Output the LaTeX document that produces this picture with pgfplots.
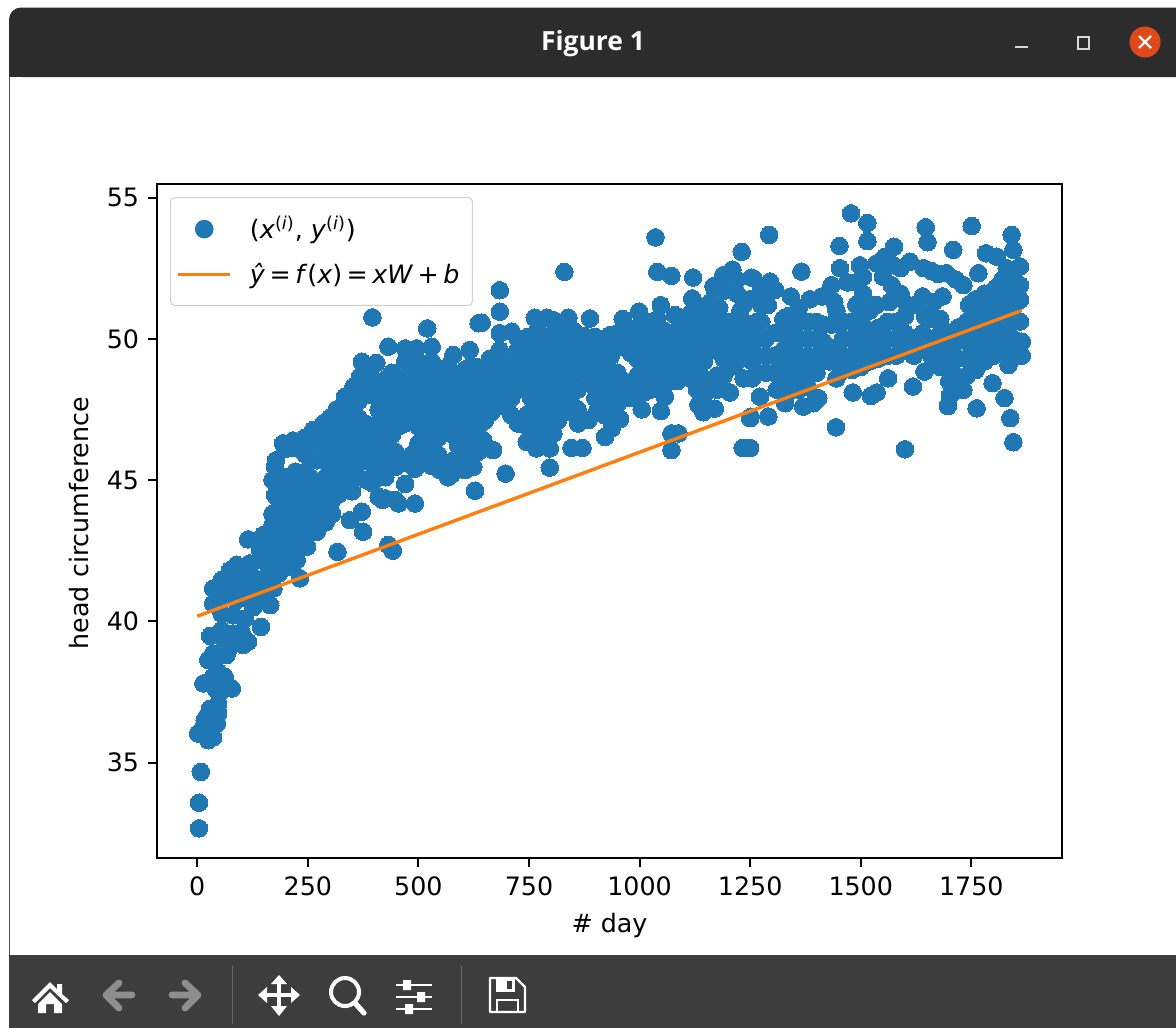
\documentclass[border=0pt]{standalone}
\usepackage{fontspec}
\usepackage{pgfplots}
\pgfplotsset{compat=1.18}
\setmainfont{DejaVu Sans}
\newfontfamily\titlefont{Open Sans}
\definecolor{mplblue}{HTML}{1F77B4}
\definecolor{mplorange}{HTML}{FF7F0E}
\definecolor{barTop}{HTML}{2C2C2C}
\definecolor{barBottom}{HTML}{3D3D3D}
\definecolor{iconGrey}{HTML}{8E8E8E}
\definecolor{closeRed}{HTML}{E0491A}
\newcommand{\mplfont}{\fontsize{12.67}{15}\selectfont}

\begin{document}
\begin{tikzpicture}
\useasboundingbox (0pt,0pt) rectangle (588pt,-514pt);
\fill[white] (0pt,0pt) rectangle (588pt,-514pt);
\begin{scope}[x=0.5pt,y=-0.5pt]
% window frame
\draw[barTop!80,line width=0.7pt] (9.5,70) -- (9.5,960);
\fill[barTop,rounded corners=6pt] (9,7.5) -- (1190,7.5) -- (1190,77) -- (9,77) -- cycle;
\fill[barTop] (9,40) rectangle (1176,77);
\fill[barBottom] (9,955) rectangle (1176,1028);
\node[text=white,font=\titlefont\bfseries\fontsize{13.2}{15}\selectfont] at (593,44) {Figure 1};
\draw[white!85!black,line width=0.9pt] (1015,47) -- (1028,47);
\draw[white!85!black,line width=0.8pt] (1078,37) rectangle (1089,49);
\fill[closeRed] (1145,42) circle (15.5);
\draw[white,line width=1.1pt] (1139,36) -- (1151,48) (1151,36) -- (1139,48);
% toolbar
\draw[white!22!barBottom,line width=0.4pt] (232,966) -- (232,1024) (461,966) -- (461,1024);
\fill[white] (32,1000) -- (50,982) -- (57,989) -- (57,984) -- (62,984) -- (62,994) -- (69,1000) -- (66,1003) -- (50,988) -- (35,1003) -- cycle;
\fill[white] (38,1004) -- (50,992) -- (62,1004) -- (62,1013) -- (54,1013) -- (54,1004) -- (46,1004) -- (46,1013) -- (38,1013) -- cycle;
\draw[iconGrey,line width=3.4pt,line cap=round,line join=round] (132,995) -- (108,995) (119,983) -- (106,995) -- (119,1008);
\draw[iconGrey,line width=3.4pt,line cap=round,line join=round] (172,995) -- (196,995) (185,983) -- (198,995) -- (185,1008);
\draw[white,line width=1.7pt] (263,995) -- (295,995) (279,979) -- (279,1011);
\fill[white] (279,975) -- (287,984) -- (271,984) -- cycle (279,1016) -- (287,1006) -- (271,1006) -- cycle (258,995) -- (267,987) -- (267,1003) -- cycle (300,995) -- (291,987) -- (291,1003) -- cycle;
\draw[white,line width=2pt] (345,992) circle (14);
\draw[white,line width=2.6pt,line cap=round] (355,1003) -- (364,1013);
\draw[white,line width=1pt] (396,985) -- (432,985) (396,997) -- (432,997) (396,1009) -- (432,1009);
\fill[white] (403,980) rectangle (411,990) (417,992) rectangle (425,1002) (405,1004) rectangle (413,1014);
\draw[white,line width=1.2pt,line join=round] (490,978) -- (516,978) -- (525,987) -- (525,1012) -- (490,1012) -- cycle;
\fill[white] (496,978) rectangle (515,992);
\fill[barBottom] (507,981) rectangle (512,989);
\draw[white,line width=1pt] (497,1012) -- (497,1000) -- (518,1000) -- (518,1012);
\end{scope}

\begin{axis}[
    at={(78.5pt,-429pt)},
    anchor=south west,
    scale only axis,
    width=452.5pt,
    height=337pt,
    xmin=-91, xmax=1955,
    ymin=31.62, ymax=55.48,
    xtick={0,250,500,750,1000,1250,1500,1750},
    ytick={35,40,45,50,55},
    tick align=outside,
    tick pos=left,
    major tick length=4.45pt,
    axis line style={line width=1pt},
    tick style={line width=1pt,black},
    clip marker paths=true,
    /pgf/number format/assume math mode=true,
    /pgf/number format/1000 sep={},
    ticklabel style={font=\mplfont},
    xticklabel style={yshift=-1.4pt},
    yticklabel style={xshift=-1pt},
    xlabel={\# day},
    ylabel={head circumference},
    label style={font=\mplfont},
    xlabel style={at={(axis description cs:0.5,0)},anchor=north,yshift=-24pt},
    ylabel style={at={(axis description cs:0,0.497)},anchor=south,yshift=30.5pt},
    legend cell align=left,
    legend style={
        at={(0.0144,0.9807)},anchor=north west,
        font=\mplfont,
        draw=black!18,line width=0.5pt,rounded corners=2pt,
        inner xsep=3pt,inner ysep=7.5pt,
        row sep=6.7pt,
        /tikz/every even column/.append style={column sep=11pt},
    },
]
\addplot[only marks,mark=*,mark size=4.4pt,mplblue,mark options={fill=mplblue,draw=mplblue,line width=0pt},
    legend image code/.code={\fill[mplblue] (13pt,0pt) circle (4.4pt);}]
coordinates {
% low left points
(4,32.67) (4,33.58) (8,34.67) (2,36.03) (25,35.79) (36,35.89) (14,36.27) (21,36.62) (44,36.38)
(47,37.09) (29,36.9) (40,36.74) (17,36.5) (47,36.74) (25,36.27) (33,36.5) (14,37.8) (36,38.04)
(78,37.62) (55,37.74) (62,38.04) (52,37.5) (25,38.63) (66,38.8) (44,38.74) (36,38.86) (29,39.48)
(55,39.69) (74,39.1) (104,39.16) (115,39.28) (100,39.63) (81,39.57) (62,39.33) (144,39.8) (165,40.57)
(48,38.2) (42,37.6) (90,39.3)
(36,41.16) (55,41.46) (74,41.81) (89,42) (119,42.05) (142,42.17) (36,40.63) (55,40.28) (81,40.22)
(108,40.1) (127,40.5) (153,40.87) (172,41.16) (66,40.87) (89,40.75) (112,40.87) (81,41.2) (104,41.34)
(127,41.1) (142,41.46) (119,41.7) (157,41.6) (96,41.7) (59,41.1) (115,42.9) (149,43.05) (142,42.52) (157,42.1)
(232,41.52) (270,43.17) (317,42.46) (375,43.17) (345,43.58) (372,43.88) (432,42.7) (442,42.5)
(492,44.17) (455,44.17) (419,44.3)
(170,41.3) (170,41.9) (170,42.4) (170,42.9) (170,43.4) (170,43.8) (176,44.47) (170,45) (176,45.47)
(185,41.7) (185,42.1) (185,42.7) (185,43.2) (185,43.7) (185,44.3) (185,44.8) (178,45.7) (194,46.3)
(200,41.9) (200,42.4) (200,42.9) (200,43.5) (200,44) (200,44.6) (200,45.1) (217,46.4) (198,46.1)
(215,42.1) (215,42.6) (215,43.2) (215,43.7) (215,44.3) (215,44.8) (222,45.3) (215,46.15)
(225,42.17) (232,42.8) (230,43.4) (230,43.9) (230,44.5) (233,45) (233,46.1) (243,46.5)
(248,42.64) (245,43.1) (245,43.7) (245,44.2) (245,44.8) (245,45.3) (245,45.9) (262,46.77)
(260,43.4) (260,44) (260,44.5) (255,45.1) (270,45.7) (260,46.3) (275,46.8)
(275,43.7) (275,44.3) (275,44.8) (285,47) (285,46.4)
(290,43.5) (290,44) (290,44.6) (290,45.1) (290,45.7) (292,46.2) (300,47.2)
(305,43.8) (305,44.3) (305,44.9) (305,45.4) (305,46) (305,46.6) (315,47.5)
(320,44.5) (320,45.1) (320,45.7) (320,46.2) (320,46.8) (325,47.3) (334,47.95)
(335,44.8) (335,45.3) (335,45.9) (335,46.4) (335,47) (335,47.5) (345,47.36) (353,48.3)
(350,44.6) (350,45.1) (350,45.7) (350,46.2) (350,46.8) (350,47.9) (368,48.66) (372,49.19)
(365,45.1) (365,45.6) (365,46.1) (365,46.7) (365,47.2) (365,47.8) (365,48.3)
(383,45) (380,45.8) (380,46.4) (380,47) (383,48.2) (380,48.7) (405,49.15) (396,50.76)
(395,44.9) (395,45.6) (395,46.2) (395,46.8) (395,48) (395,48.6)
(410,44.4) (410,45.2) (410,45.8) (410,46.4) (410,47) (410,47.5) (410,48.2) (424,48.54)
(425,44.35) (425,45.1) (430,45.7) (425,46.2) (425,46.8) (425,47.4) (425,47.9) (432,49.72)
(440,45.5) (448,45.47) (440,46.6) (440,47.1) (440,47.7) (440,48.3) (440,48.8)
(448,44.3) (448,46) (455,46.9) (455,47.5) (455,48) (455,48.5) (470,49.66) (477,48.78)
(470,44.86) (492,45.4) (470,45.6) (470,47) (470,47.6) (470,48.1) (470,48.6) (470,49.2)
(485,45.9) (485,47.1) (485,47.6) (485,48.2) (496,49.66) (485,48.8)
(500,45.8) (500,46.3) (500,46.9) (500,47.4) (500,48) (500,48.6) (520,50.37) (500,49.1)
(515,45.6) (515,46.2) (515,46.8) (515,47.4) (515,47.9) (515,48.5) (530,49.72) (515,49.1)
(530,45.5) (530,46.1) (530,46.7) (530,47.2) (530,47.8) (530,48.3) (541,48.83) (530,49.2)
(549,45.35) (545,45.9) (545,46.5) (545,47) (545,47.6) (545,48.2) (552,48.7)
(567,45.1) (560,45.6) (560,46.7) (560,47.3) (560,47.9) (560,48.4) (579,49.43) (565,49)
(579,45.7) (575,45.2) (578,46.6) (575,47.2) (575,47.7) (575,48.3) (579,48.8)
(605,45.35) (590,45.6) (590,46.2) (590,46.8) (590,47.4) (590,47.9) (590,48.5) (616,49.6)
(624,45.47) (628,44.62) (605,46) (605,46.6) (605,47.1) (605,47.7) (605,48.3) (605,48.9)
(620,46.2) (620,46.7) (620,47.3) (620,47.9) (620,48.4) (616,49) (636,50.55) (631,49)
(647,46.41) (635,46) (635,46.9) (635,47.6) (635,48.1) (635,48.6)
(669,46.06) (650,47.1) (650,47.8) (650,48.3) (643,50.57) (662,49.3) (650,48.8)
(665,47.4) (665,47.9) (665,48.4) (665,48.9) (684,49.6) (684,50.2) (684,50.96) (684,51.72)
(697,45.23) (680,47.7) (680,48.2) (680,48.7) (680,49.2) (711,50.25) (711,49.07)
(695,47.6) (695,48.1) (695,48.6) (695,49.2)
(710,47.3) (710,47.9) (710,48.5) (725,49.6) (725,48.9) (748,50.07) (725,50)
(725,47) (725,48.2) (745,46.35) (767,46.12) (745,46.9) (745,47.3)
(745,48.2) (740,48.6) (740,49.1) (740,49.6) (763,50.75) (760,50.1)
(755,46.7) (755,47.9) (755,48.5) (755,49) (755,49.6) (790,50.75)
(770,46.5) (770,47.1) (770,47.7) (770,48.3) (770,48.9) (770,49.5) (770,50.3)
(797,46.12) (797,45.44) (785,46.4) (785,47) (785,47.6) (785,48.2) (785,48.8) (785,49.4) (785,50)
(805,46.65) (800,47.2) (800,47.8) (800,48.4) (800,49) (800,49.6) (805,50.2) (805,50.66)
(815,47.1) (815,47.7) (815,48.3) (815,48.9) (815,49.5) (815,50.2) (830,52.37)
(830,47.4) (830,48) (830,48.6) (830,49.2) (830,49.8) (839,50.75) (830,50.3)
(846,46.14) (845,47.7) (845,48.3) (845,48.9) (845,49.5) (850,50.3)
(871,46.14) (861,47) (860,47.5) (860,48.2) (860,48.8) (860,49.4) (860,50)
(884,47.12) (875,48.9) (875,49.5) (888,50.72) (875,50.1)
(900,47.9) (890,48.4) (890,49) (890,49.6) (899,50.07)
(922,46.53) (937,46.83) (905,47.5) (905,48.7) (905,49.3) (905,49.8)
(920,47.3) (920,47.9) (920,48.4) (920,49) (933,50.13) (920,49.6)
(935,47.6) (935,48.2) (935,48.8) (935,49.4)
(956,47.16) (950,47.7) (950,48.3) (950,48.8) (950,49.8) (950,50.2) (962,50.7)
(965,47.9) (965,48.5) (965,49.7) (965,50.2)
(980,47.9) (980,48.4) (980,49.5) (980,50.1) (999,50.96)
(1005,47.5) (995,48.1) (995,48.7) (995,49.3) (995,49.8) (995,50.4)
(1010,48.1) (1010,48.7) (1010,49.3) (1010,49.9) (1010,50.5) (1036,53.59)
(1048,47.44) (1025,48.2) (1025,48.8) (1025,49.4) (1025,50) (1025,50.6) (1040,52.37)
(1057,47.95) (1040,48.3) (1040,48.9) (1040,49.5) (1040,50.1) (1048,51.19) (1040,50.7)
(1072,46.06) (1072,46.65) (1088,46.65) (1055,48.6) (1055,49.2) (1055,49.7) (1055,50.3) (1072,52.23)
(1070,48.5) (1070,49) (1070,49.6) (1070,50.2) (1080,50.84)
(1085,48.5) (1085,49) (1085,49.6) (1085,50.2) (1095,50.6)
(1100,48.8) (1100,49.3) (1100,49.9) (1100,50.5) (1121,52.17) (1119,51.43)
(1115,48.6) (1115,49.2) (1115,49.7) (1115,50.3) (1115,50.9)
(1133,47.67) (1144,47.4) (1130,48.2) (1130,48.8) (1130,49.4) (1130,50) (1130,50.6) (1130,51.2)
(1170,47.53) (1145,48) (1145,48.6) (1145,49.2) (1145,49.8) (1145,50.4) (1145,51)
(1160,48.2) (1160,49.6) (1160,50.2) (1160,50.8) (1167,51.86) (1160,51.3)
(1175,48.2) (1175,48.7) (1175,49.6) (1175,50.2) (1175,50.8) (1189,52.25)
(1204,48.1) (1190,48.7) (1190,49.3) (1190,49.9) (1190,50.5) (1180,51.1) (1190,51.7)
(1205,49) (1205,49.6) (1205,50.2) (1205,50.6) (1210,52.45) (1231,53.08)
(1233,46.14) (1251,47.24) (1220,49.2) (1220,49.8) (1220,50.4) (1228,51) (1220,51.6) (1220,52.1)
(1272,47.95) (1250,47.19) (1250,46.13) (1235,48.6) (1235,49.4) (1235,50) (1235,50.6) (1235,51.2) (1253,52.17)
(1291,47.25) (1255,48.6) (1255,49.2) (1250,49.9) (1250,50.5) (1250,51.4) (1257,52.14) (1293,53.68)
(1265,48.8) (1265,49.4) (1265,50) (1265,50.6) (1275,51.2) (1275,51.7) (1295,52.03)
(1329,47.72) (1285,48.8) (1285,49.4) (1285,50) (1275,50.6) (1306,51.73) (1290,51.2)
(1310,48.2) (1305,48.8) (1305,49.4) (1305,50.2) (1335,50.8)
(1325,48.4) (1325,49) (1325,49.6) (1320,50.2) (1342,51.5) (1325,50.7)
(1370,47.6) (1393,47.72) (1404,47.9) (1345,48.2) (1345,48.8) (1345,49.4) (1345,50) (1345,50.6) (1366,52.38)
(1360,48.2) (1360,48.8) (1360,49.4) (1360,50) (1360,50.6) (1360,51.1)
(1380,48.3) (1380,48.9) (1380,49.4) (1380,50) (1380,50.6) (1385,51.4)
(1444,46.87) (1400,48.8) (1400,49.4) (1400,50) (1400,50.6) (1412,51.5)
(1415,49.2) (1415,49.9) (1415,50.5) (1430,49.2) (1430,49.7) (1434,50.5) (1434,51.9)
(1445,48.6) (1445,49.2) (1450,49.6) (1445,51) (1453,52.5) (1452,53.29) (1440,51.3)
(1482,48.1) (1460,48.9) (1460,49.3) (1460,50) (1460,50.6) (1470,52) (1478,54.44)
(1480,48.9) (1480,49.4) (1480,50) (1480,50.6) (1490,51.2) (1498,52.6) (1490,52)
(1523,47.98) (1536,48.1) (1500,49) (1500,49.6) (1500,50.2) (1500,50.7) (1515,54.1) (1515,53.46)
(1520,49.2) (1520,49.8) (1520,50.3) (1520,51) (1505,51.6) (1536,52.67) (1505,52.2)
(1540,49.3) (1540,49.8) (1540,50.4) (1535,51.2) (1575,53.26) (1555,52.9) (1550,52.2)
(1562,48.6) (1560,49.4) (1560,50) (1560,50.6) (1565,51.3) (1570,51.9) (1575,52.6)
(1600,46.09) (1580,49.4) (1580,50) (1580,50.6) (1590,52.5) (1590,51.6)
(1618,48.31) (1600,49.6) (1600,50.2) (1600,50.8) (1611,52.73) (1605,51.2)
(1620,49.4) (1620,50) (1625,51.2) (1642,52.5) (1647,53.95) (1651,53.42)
(1644,48.84) (1640,49.6) (1640,50.2) (1645,50.8) (1640,51.5)
(1660,49.4) (1660,50) (1660,50.7) (1660,52.4) (1675,52.3) (1665,51.3)
(1697,47.62) (1702,48) (1680,49) (1680,49.6) (1680,50.2) (1680,50.7) (1694,52.32) (1709,53.15)
(1700,48.5) (1700,49) (1700,49.6) (1700,50.2) (1685,51.5)
(1732,48.19) (1715,48.7) (1720,49.3) (1715,49.9) (1720,50.4) (1732,51.9) (1715,52.1)
(1762,47.54) (1740,48.7) (1740,49.3) (1740,49.9) (1740,50.6) (1745,51.2) (1751,53.99)
(1760,48.9) (1760,49.5) (1760,50.1) (1760,50.7) (1766,52.32) (1760,51.4)
(1798,48.43) (1780,49.2) (1780,49.8) (1780,50.4) (1780,51) (1783,53.03) (1780,51.6)
(1825,47.9) (1838,47.19) (1845,46.34) (1800,49.4) (1800,50) (1800,50.6) (1800,51.2) (1807,52.91) (1805,51.8)
(1834,49.07) (1820,49.6) (1820,50.2) (1820,50.8) (1820,51.4) (1820,52.1) (1830,52.5)
(1841,53.68) (1845,53.15) (1860,52.56) (1860,51.9) (1860,51.38) (1860,50.61) (1864,49.9) (1864,49.4)
(1845,49.5) (1845,50) (1845,50.6) (1845,51.1) (1845,51.7) (1845,52.3)
};
\addlegendentry{\hspace*{7pt}(\textit{x}\textsuperscript{(\textit{i})}, \textit{y}\textsuperscript{(\textit{i})})}
\addplot[mplorange,line width=1.7pt,
    legend image code/.code={\draw[mplorange,line width=1.7pt] (0pt,0pt) -- (26pt,0pt);}]
coordinates {(0,40.18) (1864,51.0)};
\addlegendentry{\hspace*{7pt}\textit{ŷ}\hspace{2.2pt}=\hspace{2.2pt}\textit{f}(\textit{x})\hspace{2.2pt}=\hspace{2.2pt}\textit{xW}\hspace{2.2pt}+\hspace{2.2pt}\textit{b}\hspace*{1.5pt}}
\end{axis}
\end{tikzpicture}
\end{document}
